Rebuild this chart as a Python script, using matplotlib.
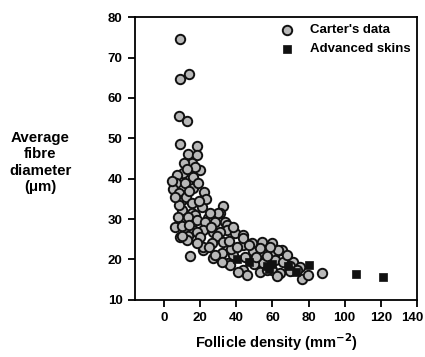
import matplotlib
matplotlib.use("Agg")
import matplotlib.pyplot as plt
import matplotlib.transforms as mtransforms

plt.rcParams['font.family'] = ['Liberation Sans', 'DejaVu Sans']

# Carter's data: (follicle density mm^-2, fibre diameter um)
carter = [(9, 74.5), (9, 64.7), (14, 66), (8.5, 55.5), (12.5, 54.3), (9, 48.7),
          (18, 48), (13.5, 46), (18, 45.9), (15.3, 43.8), (20, 42.2), (10.7, 41.4),
          (16.2, 40.5), (7, 40.9), (6.6, 38.9), (11.6, 38.9), (16.2, 37.6),
          (22, 36.8), (5, 37.5), (8, 36.5), (9.8, 34.8), (12, 35.5), (15.3, 33.9),
          (21, 33.1), (23, 35), (32.5, 33.3), (9.8, 32.3), (8, 33.5), (15.3, 31.5),
          (17, 31), (31, 31.5), (10.7, 29.4), (13, 30.5), (18, 29.8), (23.6, 29.4),
          (24.5, 30.2), (33.8, 29.4), (34.7, 28.6), (28.2, 29.4), (22.7, 29.4),
          (11.6, 26.9), (16.2, 27.3), (21.8, 27.3), (27.3, 26.9), (34.7, 27.3),
          (18, 26.9), (31, 26.9), (39.3, 26.5), (43.9, 26.1), (8.9, 25.5),
          (13.5, 25.7), (20, 25.5), (29.2, 25.7), (26.4, 24), (32.8, 24.4),
          (43.9, 23.6), (54.1, 24.4), (59.6, 24), (21.8, 22.4), (31.9, 21.6),
          (38.4, 21.1), (49.4, 22), (54.1, 21.6), (61.4, 21.6), (65.1, 22.4),
          (27.3, 20.3), (35.5, 19.1), (43.9, 17.4), (47.6, 19.9), (55, 19.1),
          (59.6, 17.4), (53.1, 17), (61.4, 19.9), (66, 19.5), (71.5, 19.5),
          (75.3, 18.2), (64.2, 16.6), (76.2, 15.1), (79.9, 16.2), (87.3, 16.6),
          (14.4, 20.9), (63.3, 22.4), (53, 22.8), (58.7, 23.2), (48.5, 24),
          (43.9, 25.3), (30, 31.6), (70, 18.5), (73.4, 17.4), (62.4, 15.8),
          (56.8, 17.4), (45.8, 16.2), (41.1, 17), (36.5, 18.7), (31.9, 19.5),
          (28.2, 21.1), (21.8, 23.2), (18, 24), (12.5, 24.9), (9.8, 25.7),
          (4.5, 39.5), (6, 35.5), (7.5, 30.5), (11, 44), (14, 37), (19, 39),
          (25, 23), (37, 22.5), (45, 20.5), (50, 18.8), (68, 21), (25.5, 31.5),
          (36, 24.5), (40.5, 23), (51, 20.5), (57, 20.8), (47, 23.5), (70, 17.2),
          (6, 28), (10, 28.2), (14, 28.5), (19.5, 34.5), (26, 28), (38, 28),
          (17, 43), (12.5, 42.5)]
carter_x = [p[0] for p in carter]
carter_y = [p[1] for p in carter]

# Advanced skins
adv_x = [40.5, 47, 57, 58, 60, 68.5, 73, 80, 106.3, 121.4]
adv_y = [20, 19.4, 18.4, 17.6, 19, 18.3, 17, 18.7, 16.4, 15.6]

fig = plt.figure(figsize=(4.25, 3.57), dpi=100)
ax = fig.add_axes([0.318, 0.160, 0.663, 0.792])

ax.scatter(carter_x, carter_y, s=46, c='#b8b8b8', edgecolors='#111111',
           linewidths=1.4, label="Carter's data", zorder=2)
ax.scatter(adv_x, adv_y, s=38, marker='s', c='#111111', edgecolors='#111111',
           linewidths=0.5, label='Advanced skins', zorder=3)

ax.set_xlim(-16, 140)
ax.set_ylim(10, 80)
ax.set_xticks(range(0, 141, 20))
ax.set_yticks(range(10, 81, 10))
for s in ax.spines.values():
    s.set_linewidth(1.3)
ax.tick_params(direction='out', length=5, width=1.3, labelsize=9.5, pad=4)
for lab in ax.get_xticklabels() + ax.get_yticklabels():
    lab.set_fontweight('bold')

# nudge the last x label so it stays inside the figure
last = ax.get_xticklabels()[-1]
shift = mtransforms.ScaledTranslation(-0.05, 0, fig.dpi_scale_trans)
last.set_transform(last.get_transform() + shift)

ax.set_xlabel('Follicle density (mm$^{\\mathbf{-2}}$)', fontsize=10.5,
              fontweight='bold', labelpad=5)
fig.text(0.095, 0.545, 'Average\nfibre\ndiameter\n(\u03bcm)', ha='center',
         va='center', fontsize=10.8, fontweight='bold', linespacing=1.2)

ax.legend(loc='upper right', frameon=False, handletextpad=0.9,
          borderaxespad=0.1, labelspacing=0.55, handlelength=1.6,
          prop={'weight': 'bold', 'size': 9.5})

fig.savefig('out.png', dpi=100)
